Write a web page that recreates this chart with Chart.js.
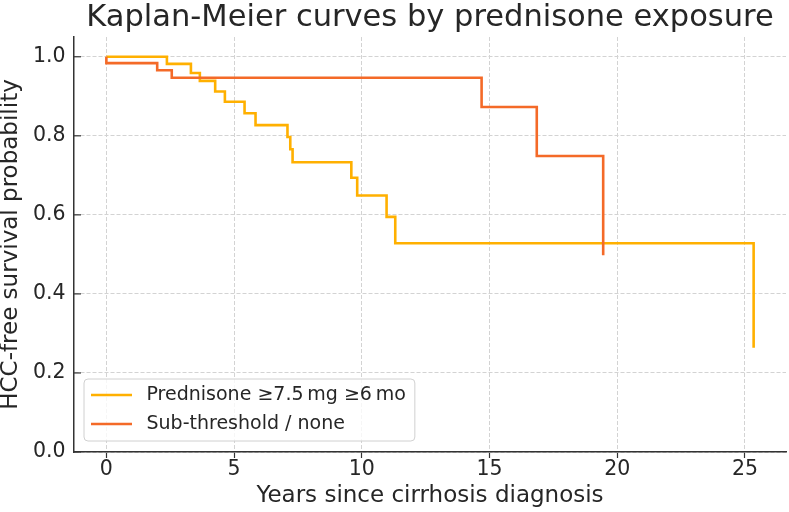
<!DOCTYPE html>
<html>
<head>
<meta charset="utf-8">
<script src="https://cdn.jsdelivr.net/npm/chart.js@4/dist/chart.umd.min.js"></script>
<style>
html,body{margin:0;padding:0;background:#ffffff;}
#wrap{width:789px;height:512px;position:relative;}
</style>
</head>
<body>
<div id="wrap"><canvas id="c"></canvas></div>
<script>
// ---- text ----
const chartTitle = "Kaplan-Meier curves by prednisone exposure";
const xAxisTitle = "Years since cirrhosis diagnosis";
const yAxisTitle = "HCC-free survival probability";
const seriesLabels = ["Prednisone \u22657.5\u2009mg \u22656\u2009mo", "Sub-threshold / none"];

// ---- data ----
const predTimes = [0, 2.37, 3.31, 3.66, 4.26, 4.64, 5.41, 5.84, 7.09, 7.20, 7.29, 9.59, 9.82, 10.97, 11.31, 25.34];
const predSurv  = [1.0, 0.982, 0.959, 0.939, 0.912, 0.886, 0.857, 0.827, 0.797, 0.766, 0.733, 0.694, 0.649, 0.595, 0.528, 0.264];
const subTimes  = [0, 0, 1.99, 2.56, 14.69, 16.85, 19.45];
const subSurv   = [1.0, 0.984, 0.966, 0.947, 0.873, 0.749, 0.498];

// ---- ticks ----
const xTicks = [0, 5, 10, 15, 20, 25];
const yTicks = [0, 0.2, 0.4, 0.6, 0.8, 1.0];

const colors = ["#FFB000", "#F46A28"];
const textColor = "#262626";
const FAMILY = "'DejaVu Sans', sans-serif";

Chart.defaults.font.family = FAMILY;
Chart.defaults.color = textColor;

const toPts = (ts, ss) => ts.map((t, i) => ({x: t, y: ss[i]}));

const extras = {
  id: 'extras',
  afterDraw(chart) {
    const {ctx, chartArea, scales: {y}} = chart;
    ctx.save();
    // inward y tick marks
    ctx.strokeStyle = '#333333';
    ctx.lineWidth = 1.2;
    yTicks.forEach(v => {
      const py = y.getPixelForValue(v);
      ctx.beginPath();
      ctx.moveTo(chartArea.left, py);
      ctx.lineTo(chartArea.left + 7, py);
      ctx.stroke();
    });
    // legend
    const fontPx = 19;
    ctx.font = fontPx + "px " + FAMILY;
    const widths = chart.data.datasets.map(d => ctx.measureText(d.label).width);
    const bx = 84, by = 379, textX = 146.5;
    const bw = textX + Math.max(...widths) + 9 - bx, bh = 62, r = 4;
    ctx.beginPath();
    ctx.moveTo(bx + r, by);
    ctx.arcTo(bx + bw, by, bx + bw, by + bh, r);
    ctx.arcTo(bx + bw, by + bh, bx, by + bh, r);
    ctx.arcTo(bx, by + bh, bx, by, r);
    ctx.arcTo(bx, by, bx + bw, by, r);
    ctx.closePath();
    ctx.fillStyle = 'rgba(255,255,255,0.8)';
    ctx.fill();
    ctx.strokeStyle = '#d0d0d0';
    ctx.lineWidth = 1;
    ctx.stroke();
    const rows = [395, 424];
    chart.data.datasets.forEach((d, i) => {
      ctx.strokeStyle = d.borderColor;
      ctx.lineWidth = 2.6;
      ctx.beginPath();
      ctx.moveTo(91, rows[i]);
      ctx.lineTo(132, rows[i]);
      ctx.stroke();
      ctx.fillStyle = textColor;
      ctx.textBaseline = 'middle';
      ctx.textAlign = 'left';
      ctx.fillText(d.label, textX, rows[i]);
    });
    ctx.restore();
  }
};

new Chart(document.getElementById('c'), {
  type: 'line',
  data: {
    datasets: [
      {label: seriesLabels[0], data: toPts(predTimes, predSurv), borderColor: colors[0],
       borderWidth: 2.6, stepped: 'before', pointRadius: 0, fill: false, order: 1, borderJoinStyle: 'miter'},
      {label: seriesLabels[1], data: toPts(subTimes, subSurv), borderColor: colors[1],
       borderWidth: 2.6, stepped: 'before', pointRadius: 0, fill: false, order: 0, borderJoinStyle: 'miter'}
    ]
  },
  options: {
    animation: false,
    responsive: true,
    maintainAspectRatio: false,
    devicePixelRatio: 1,
    layout: {padding: {left: 0, right: 3, top: 0, bottom: 0}},
    plugins: {
      legend: {display: false},
      tooltip: {enabled: false},
      title: {display: true, text: chartTitle, color: textColor, fullSize: false,
              font: {size: 30.5, weight: 'normal', lineHeight: 1.0},
              padding: {top: 3, bottom: 3.5}}
    },
    scales: {
      x: {
        type: 'linear', min: -1.267, max: 26.607,
        afterBuildTicks: s => { s.ticks = xTicks.map(v => ({value: v})); },
        afterFit: s => { s.height = 60; },
        ticks: {font: {size: 20.5, lineHeight: 1.0}, color: textColor, padding: 1, maxRotation: 0,
                callback: v => String(v)},
        grid: {color: '#d3d3d3', lineWidth: 1, drawTicks: true, tickLength: 6, tickColor: '#333333', tickWidth: 1.2},
        border: {display: true, color: '#333333', width: 1.5, dash: [4, 2]},
        title: {display: true, text: xAxisTitle, color: textColor,
                font: {size: 23, lineHeight: 1.0}, padding: {top: 0, bottom: 4}}
      },
      y: {
        type: 'linear', min: 0, max: 1.05,
        afterBuildTicks: s => { s.ticks = yTicks.map(v => ({value: v})); },
        afterFit: s => { s.width = 74; },
        ticks: {font: {size: 20.5, lineHeight: 1.0}, color: textColor, padding: 8.5,
                callback: v => Number(v).toFixed(1)},
        grid: {color: '#d3d3d3', lineWidth: 1, drawTicks: false},
        border: {display: true, color: '#333333', width: 1.5, dash: [4, 2]},
        title: {display: true, text: yAxisTitle, color: textColor,
                font: {size: 23, lineHeight: 1.0}, padding: {top: 0, bottom: 0}}
      }
    }
  },
  plugins: [extras]
});
</script>
</body>
</html>
